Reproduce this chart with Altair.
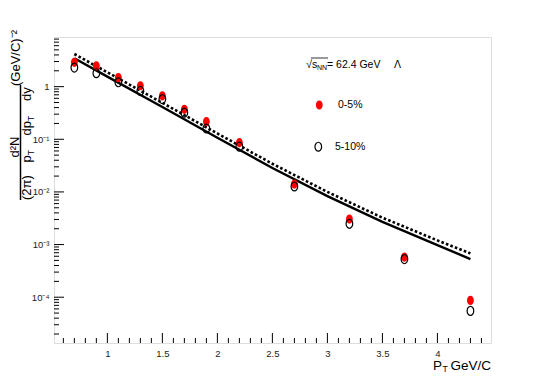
import altair as alt
import pandas as pd

# ---- data ----
pt_points = [0.7, 0.9, 1.1, 1.3, 1.5, 1.7, 1.9, 2.2, 2.7, 3.2, 3.7, 4.3]
yield_0_5 = [2.9, 2.47, 1.48, 1.04, 0.67, 0.37, 0.217, 0.0866, 0.0141, 0.00305, 5.8e-4, 8.7e-5]
yield_5_10 = [2.3, 1.8, 1.21, 0.83, 0.58, 0.32, 0.16, 0.0725, 0.0127, 0.00248, 5.3e-4, 5.5e-5]

pt_curve = [0.7, 1.0, 1.5, 2.0, 2.5, 3.0, 3.5, 4.0, 4.3]
model_solid = [3.47, 1.55, 0.41, 0.107, 0.0285, 0.00834, 0.00269, 9.8e-4, 5.3e-4]
model_dotted = [4.17, 1.87, 0.492, 0.129, 0.0343, 0.0100, 0.00324, 0.0012, 6.8e-4]

x_major_ticks = [1.0, 1.5, 2.0, 2.5, 3.0, 3.5, 4.0]
x_minor_ticks = [0.6, 0.7, 0.8, 0.9, 1.1, 1.2, 1.3, 1.4, 1.6, 1.7, 1.8, 1.9,
                 2.1, 2.2, 2.3, 2.4, 2.6, 2.7, 2.8, 2.9, 3.1, 3.2, 3.3, 3.4,
                 3.6, 3.7, 3.8, 3.9, 4.1, 4.2, 4.3, 4.4]
y_major_ticks = [1e-4, 1e-3, 1e-2, 1e-1, 1.0]
y_minor_ticks = [k * 10.0 ** e for e in range(-5, 1) for k in range(2, 10)
                 if 1.35e-5 <= k * 10.0 ** e <= 8.7]

X_DOMAIN = [0.515, 4.487]
Y_DOMAIN = [1.35e-5, 8.77]
W, H = 437, 306
FONT = "Liberation Sans"

pts = pd.DataFrame({"pt": pt_points, "c05": yield_0_5, "c510": yield_5_10})
curves = pd.DataFrame({"pt": pt_curve, "solid": model_solid, "dotted": model_dotted})
one = pd.DataFrame({"a": [0]})

xscale = alt.Scale(domain=X_DOMAIN, nice=False, zero=False)
yscale = alt.Scale(type="log", domain=Y_DOMAIN, nice=False)

x_axis = alt.Axis(values=x_major_ticks, format="~g", ticks=False, domain=False, grid=False,
                  labelFontSize=9.5, labelFont=FONT, labelColor="#222", labelPadding=5,
                  title=None, labelFlush=False)
label_expr = ("datum.value > 0.5 ? '1' : datum.value > 0.05 ? '10\u207b\u00b9' : "
              "datum.value > 0.005 ? '10\u207b\u00b2' : datum.value > 0.0005 ? '10\u207b\u00b3' : '10\u207b\u2074'")
y_axis = alt.Axis(values=y_major_ticks, labelExpr=label_expr, ticks=False, domain=False, grid=False,
                  labelFontSize=9.5, labelFont=FONT, labelColor="#222", labelPadding=5,
                  title=None, labelFlush=False)


def X(field):
    return alt.X(field, type="quantitative", scale=xscale, axis=x_axis)


def Y(field):
    return alt.Y(field, type="quantitative", scale=yscale, axis=y_axis)


ellipse = "M0,-1A0.74,1 0 1,1 0,1A0.74,1 0 1,1 0,-1Z"

solid_line = alt.Chart(curves).mark_line(color="black", strokeWidth=2.4, clip=True).encode(
    x=X("pt"), y=Y("solid"))
dotted_line = alt.Chart(curves).mark_line(color="black", strokeWidth=2.6, strokeDash=[2.6, 2.2],
                                          clip=True).encode(x=X("pt"), y=Y("dotted"))
red_pts = alt.Chart(pts).mark_point(shape=ellipse, filled=True, color="#ff0000", size=85,
                                    opacity=1).encode(x=X("pt"), y=Y("c05"))
open_pts = alt.Chart(pts).mark_point(shape=ellipse, filled=False, color="black", size=80,
                                     strokeWidth=1.2, opacity=1).encode(x=X("pt"), y=Y("c510"))

# inward ticks
xt_major = alt.Chart(pd.DataFrame({"t": x_major_ticks})).mark_rule(color="black", strokeWidth=1).encode(
    x=X("t"), y=alt.value(H), y2=alt.value(H - 10))
xt_minor = alt.Chart(pd.DataFrame({"t": x_minor_ticks})).mark_rule(color="black", strokeWidth=1).encode(
    x=X("t"), y=alt.value(H), y2=alt.value(H - 5))
yt_major = alt.Chart(pd.DataFrame({"t": y_major_ticks})).mark_rule(color="black", strokeWidth=1).encode(
    y=Y("t"), x=alt.value(0), x2=alt.value(10))
yt_minor = alt.Chart(pd.DataFrame({"t": y_minor_ticks})).mark_rule(color="black", strokeWidth=1).encode(
    y=Y("t"), x=alt.value(0), x2=alt.value(5))


def txt(s, x, y, size=13, angle=0, align="left", baseline="middle", color="black"):
    return alt.Chart(one).mark_text(text=s, fontSize=size, font=FONT, angle=angle, align=align,
                                    baseline=baseline, color=color).encode(
        x=alt.value(x), y=alt.value(y))


def seg(x1, y1, x2, y2, w=1.2):
    return alt.Chart(one).mark_rule(color="black", strokeWidth=w).encode(
        x=alt.value(x1), y=alt.value(y1), x2=alt.value(x2), y2=alt.value(y2))


annotations = [
    # y title (plot coords: window x - 54, window y - 37)
    txt("d\u00b2N", -39, 110, 13, 270, "center"),
    seg(-33.5, 48, -33.5, 163, 1.5),
    txt("(2\u03c0)", -27, 163, 13, 270),
    txt("p", -27, 125.5, 13, 270),
    txt("T", -23, 118.3, 8.5, 270),
    txt("dp", -27, 98.5, 13, 270),
    txt("T", -23, 84, 8.5, 270),
    txt("dy", -27, 64, 13, 270),
    txt("(GeV/C)\u207b\u00b2", -38.5, 49, 13, 270),
    # x title
    txt("P", 379, 328.5, 13.5),
    txt("T", 388.5, 332, 8.5),
    txt("GeV/C", 437, 328.5, 13.5, align="right"),
    # legend header
    txt("\u221a", 252, 28, 11),
    seg(257, 21, 274, 21, 0.8),
    txt("s", 258, 28, 10.5),
    txt("NN", 263, 31, 7),
    txt("= 62.4 GeV", 273, 28, 10.5),
    txt("\u039b", 340, 28, 10.5),
    # legend entries
    txt("0-5%", 284, 68, 10.5),
    txt("5-10%", 281, 110, 10.5),
]

legend_red = alt.Chart(one).mark_point(shape=ellipse, filled=True, color="#ff0000", size=85,
                                       opacity=1).encode(x=alt.value(265.3), y=alt.value(68))
legend_open = alt.Chart(one).mark_point(shape=ellipse, filled=False, color="black", size=80,
                                        strokeWidth=1.2, opacity=1).encode(x=alt.value(264.3),
                                                                           y=alt.value(109.7))

chart = alt.layer(
    solid_line, dotted_line, red_pts, open_pts,
    xt_major, xt_minor, yt_major, yt_minor,
    legend_red, legend_open, *annotations
).properties(
    width=W, height=H,
    autosize=alt.AutoSizeParams(type="none"),
    padding={"left": 46, "top": 29, "right": 46, "bottom": 31},
).configure_view(stroke="black", strokeWidth=1.2).configure(background="white")

chart.save("out.html", embed_options={"renderer": "svg", "actions": False})
